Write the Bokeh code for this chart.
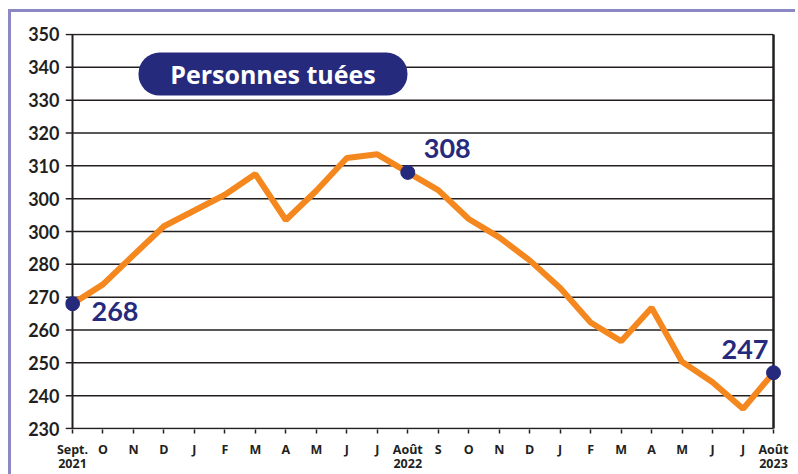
from bokeh.plotting import figure
from bokeh.models import Range1d, FixedTicker, Label
from bokeh.embed import file_html
from bokeh.resources import INLINE

# ---- data ----
months = ["Sept.\n2021", "O", "N", "D", "J", "F", "M", "A", "M", "J", "J", "Août\n2022",
          "S", "O", "N", "D", "J", "F", "M", "A", "M", "J", "J", "Août\n2023"]
killed = [268, 273.9, 282.8, 291.6, 296.4, 301.2, 307.5, 293.5, 302.4, 312.4, 313.5, 308,
          302.6, 293.8, 288.2, 281.2, 272.8, 262.3, 256.6, 266.8, 250.3, 244.1, 236, 247]
y_ticks = [230, 240, 250, 260, 270, 280, 290, 300, 310, 320, 330, 340, 350]
y_tick_labels = ["230", "240", "250", "260", "270", "280", "300", "300", "310", "320", "330", "340", "350"]
highlight_idx = [0, 11, 23]
highlight_labels = ["268", "308", "247"]
title_text = "Personnes tuées"

x = list(range(len(months)))

ORANGE = "#f5871f"
NAVY = "#262a7d"
DARK = "#231f20"
FONT = "Lato"
FONT2 = "Open Sans"

x0, x1 = -0.23, 23.262
y0, y1 = 229.7, 350.3

p = figure(frame_width=716, frame_height=396,
           min_border_left=54, min_border_right=14, min_border_top=21, min_border_bottom=40,
           x_range=Range1d(x0, x1), y_range=Range1d(y0, y1),
           output_backend="svg", toolbar_location=None)
p.styles = {"margin-left": "8px", "margin-top": "9px",
            "border-top": "3px solid #8c88c4", "border-left": "3px solid #8c88c4"}
p.outline_line_color = None
p.grid.grid_line_color = None
p.background_fill_color = "white"
p.border_fill_color = "white"

# y axis
p.yaxis.ticker = FixedTicker(ticks=y_ticks)
p.yaxis.major_label_overrides = {t: l for t, l in zip(y_ticks, y_tick_labels)}
p.yaxis.axis_line_color = None
p.yaxis.major_tick_out = 0
p.yaxis.major_tick_in = 0
p.yaxis.minor_tick_line_color = None
p.yaxis.major_label_standoff = 6
p.yaxis.major_label_text_font = FONT
p.yaxis.major_label_text_font_style = "bold"
p.yaxis.major_label_text_font_size = "18px"
p.yaxis.major_label_text_color = DARK

# x axis
p.xaxis.ticker = FixedTicker(ticks=x)
p.xaxis.major_label_overrides = {i: m for i, m in zip(x, months)}
p.xaxis.axis_line_color = None
p.xaxis.major_tick_out = 4
p.xaxis.major_tick_in = 0
p.xaxis.major_tick_line_color = DARK
p.xaxis.major_tick_line_width = 1.5
p.xaxis.minor_tick_line_color = None
p.xaxis.major_label_standoff = 7
p.xaxis.major_label_text_font = FONT2
p.xaxis.major_label_text_font_style = "bold"
p.xaxis.major_label_text_font_size = "12.5px"
p.xaxis.major_label_text_color = DARK
p.xaxis.major_label_text_line_height = 0.85

# horizontal grid lines (start at frame left so the left part reads as ticks)
n = len(y_ticks)
p.segment(x0=[x0] * n, y0=y_ticks, x1=[x[-1]] * n, y1=y_ticks, line_color=DARK, line_width=1.5)
# left axis line and right border
p.segment(x0=[x[0]], y0=[y_ticks[0]], x1=[x[0]], y1=[y_ticks[-1]], line_color=DARK, line_width=2)
p.segment(x0=[x[-1]], y0=[y_ticks[0]], x1=[x[-1]], y1=[y_ticks[-1]], line_color=DARK, line_width=2.5)

# title badge
p.quad(left=2.165, right=10.99, top=344.5, bottom=331.4, fill_color=NAVY, line_color=None,
       border_radius=21)
p.add_layout(Label(x=(2.165 + 10.99) / 2, y=(344.5 + 331.4) / 2, text=title_text,
                   text_align="center", text_baseline="middle", text_color="white",
                   text_font=FONT2, text_font_style="bold", text_font_size="25px"))

# data line
p.line(x, killed, line_color=ORANGE, line_width=6)
hx = [x[i] for i in highlight_idx]
hy = [killed[i] for i in highlight_idx]
p.scatter(hx, hy, size=14, fill_color=NAVY, line_color=NAVY)

offsets = [(19, -8, "left"), (16, 24, "left"), (-5, 23, "right")]
for xi, yi, txt, (dx, dy, al) in zip(hx, hy, highlight_labels, offsets):
    p.add_layout(Label(x=xi, y=yi, text=txt, x_offset=dx, y_offset=dy,
                       text_align=al, text_baseline="middle", text_color=NAVY,
                       text_font=FONT, text_font_style="bold", text_font_size="27px"))

open("out.html", "w").write(file_html(p, INLINE))
